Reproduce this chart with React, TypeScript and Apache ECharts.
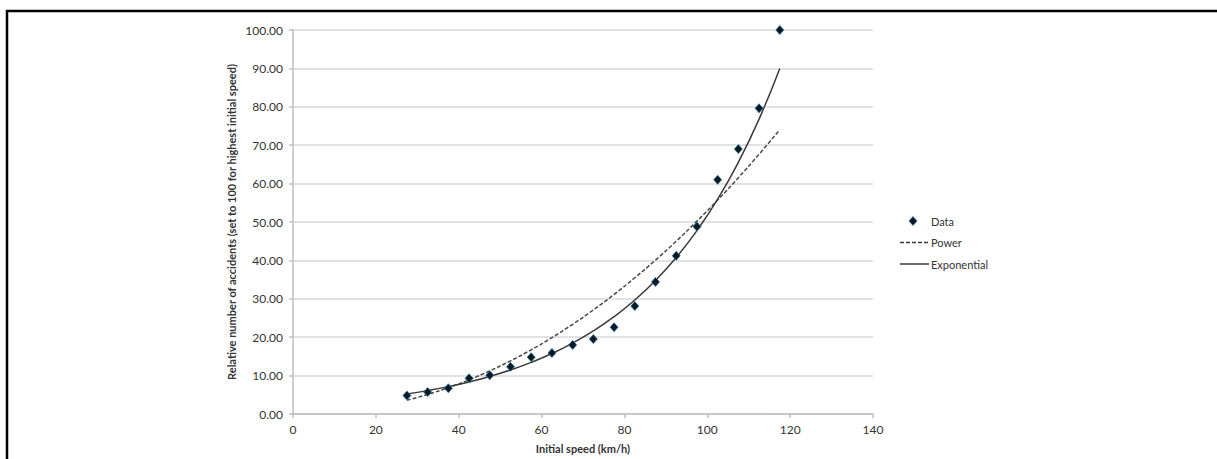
import React, { useEffect, useRef } from "react";
import * as echarts from "echarts";

const speeds = [27.5, 32.5, 37.5, 42.5, 47.5, 52.5, 57.5, 62.5, 67.5, 72.5, 77.5, 82.5, 87.5, 92.5, 97.5, 102.5, 107.5, 112.5, 117.5];
const dataValues = [4.8, 5.7, 6.7, 9.3, 10.1, 12.3, 14.8, 15.9, 18.0, 19.5, 22.6, 28.1, 34.4, 41.2, 48.8, 61.0, 69.0, 79.6, 100.0];
const powerValues = [3.6, 5.1, 6.87, 8.91, 11.23, 13.84, 16.72, 19.9, 23.35, 27.1, 31.13, 35.47, 40.08, 44.99, 50.22, 55.72, 61.53, 67.65, 74.04];
const expValues = [5.2, 6.09, 7.13, 8.36, 9.79, 11.47, 13.45, 15.75, 18.46, 21.63, 25.34, 29.69, 34.78, 40.75, 47.74, 55.93, 65.54, 76.79, 89.98];
const seriesNames = ["Data", "Power", "Exponential"];
const xTitle = "Initial speed (km/h)";
const yTitle = "Relative number of accidents (set to 100 for highest initial speed)";

const FONT = "Lato, 'Open Sans', sans-serif";
const POINT_FILL = "#071826";
const POINT_EDGE = "#2a6f92";
const LINE_COLOR = "#3a3a3a";

export default function App() {
  const ref = useRef<HTMLDivElement>(null);
  useEffect(() => {
    if (!ref.current) return;
    const chart = echarts.init(ref.current, undefined, { renderer: "svg" });
    const pairs = (vals: number[]) => speeds.map((s, i) => [s, vals[i]]);
    const legendText = (txt: string, y: number) => ({
      type: "text",
      x: 931,
      y,
      style: { text: txt, fontFamily: FONT, fontSize: 11, fill: "#333", verticalAlign: "middle", align: "left" },
    });
    chart.setOption({
      animation: false,
      backgroundColor: "#ffffff",
      textStyle: { fontFamily: FONT },
      grid: { left: 293, right: 344, top: 30, bottom: 45 },
      xAxis: {
        type: "value",
        min: 0,
        max: 140,
        interval: 20,
        name: xTitle,
        nameLocation: "middle",
        nameGap: 29,
        nameTextStyle: { fontFamily: FONT, fontSize: 11, fontWeight: "bold", color: "#333" },
        axisLine: { show: true, lineStyle: { color: "#bfbfbf", width: 1.5 } },
        axisTick: { show: true, length: 4, lineStyle: { color: "#bfbfbf", width: 1.5 } },
        axisLabel: { color: "#333", fontSize: 12, fontFamily: FONT, margin: 9 },
        splitLine: { show: false },
      },
      yAxis: {
        type: "value",
        min: 0,
        max: 100,
        interval: 10,
        name: yTitle,
        nameLocation: "middle",
        nameGap: 56,
        nameRotate: 90,
        nameTextStyle: { fontFamily: FONT, fontSize: 11, fontWeight: "bold", color: "#333" },
        axisLine: { show: true, lineStyle: { color: "#bfbfbf", width: 1.5 } },
        axisTick: { show: true, length: 4, lineStyle: { color: "#bfbfbf", width: 1.5 } },
        axisLabel: {
          color: "#333",
          fontSize: 12,
          fontFamily: FONT,
          margin: 10,
          formatter: (v: number) => v.toFixed(2),
        },
        splitLine: { show: true, lineStyle: { color: "#d9d9d9", width: 1.5 } },
      },
      legend: { show: false },
      graphic: [
        { type: "line", shape: { x1: 6, y1: 11, x2: 1217, y2: 11 }, style: { stroke: "#000", lineWidth: 2.5 } },
        { type: "line", shape: { x1: 7, y1: 10, x2: 7, y2: 459 }, style: { stroke: "#000", lineWidth: 2.5 } },
        {
          type: "polygon",
          shape: { points: [[913, 216.5], [917, 221], [913, 225.5], [909, 221]] },
          style: { fill: POINT_FILL, stroke: POINT_EDGE, lineWidth: 0.8 },
        },
        legendText(seriesNames[0], 221),
        {
          type: "line",
          shape: { x1: 900, y1: 242.5, x2: 929, y2: 242.5 },
          style: { stroke: LINE_COLOR, lineWidth: 1.5, lineDash: [4, 2] },
        },
        legendText(seriesNames[1], 242.5),
        {
          type: "line",
          shape: { x1: 900, y1: 264, x2: 929, y2: 264 },
          style: { stroke: LINE_COLOR, lineWidth: 1.5 },
        },
        legendText(seriesNames[2], 264),
      ],
      series: [
        {
          name: seriesNames[1],
          type: "line",
          data: pairs(powerValues),
          smooth: true,
          showSymbol: false,
          symbol: "none",
          lineStyle: { color: "#4a4a4a", width: 1.5, type: [4, 2] },
          itemStyle: { color: "#4a4a4a" },
          z: 2,
        },
        {
          name: seriesNames[2],
          type: "line",
          data: pairs(expValues),
          smooth: true,
          showSymbol: false,
          symbol: "none",
          lineStyle: { color: LINE_COLOR, width: 1.5 },
          itemStyle: { color: LINE_COLOR },
          z: 2,
        },
        {
          name: seriesNames[0],
          type: "scatter",
          data: pairs(dataValues),
          symbol: "diamond",
          symbolSize: [8, 9],
          itemStyle: { color: POINT_FILL, borderColor: POINT_EDGE, borderWidth: 0.8, opacity: 1 },
          z: 3,
        },
      ],
    });
    return () => chart.dispose();
  }, []);
  return <div ref={ref} style={{ position: "fixed", left: 0, top: 0, width: 1217, height: 459 }} />;
}
